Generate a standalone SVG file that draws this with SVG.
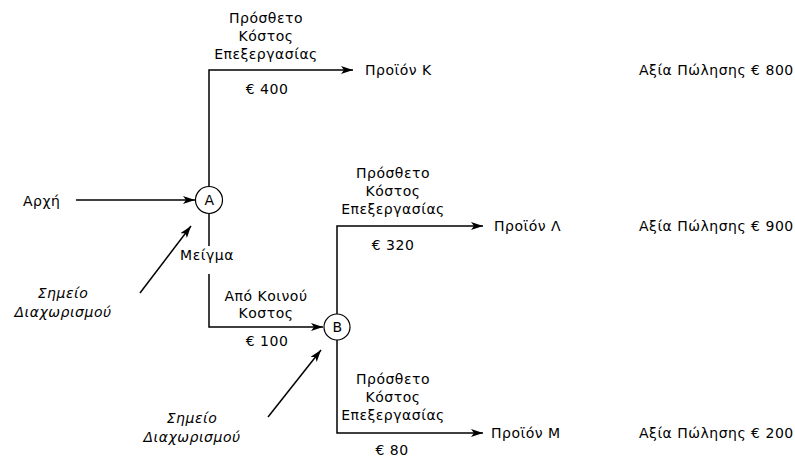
<svg xmlns="http://www.w3.org/2000/svg" width="795" height="457" viewBox="0 0 795 457">
<defs>
<marker id="ah" viewBox="0 0 12 8" refX="12" refY="4" markerWidth="12" markerHeight="8" markerUnits="userSpaceOnUse" orient="auto">
<path d="M0,0 L12,4 L0,8 L3,4 Z" fill="#000"/>
</marker>
</defs>
<style>
text{font-family:"DejaVu Sans",Verdana,sans-serif;font-size:14px;letter-spacing:0.5px;fill:#000}
.c{text-anchor:middle}
.i{font-style:italic}
.ln{fill:none;stroke:#000;stroke-width:1.5}
.nd{fill:#fff;stroke:#000;stroke-width:1.2}
</style>
<rect width="795" height="457" fill="#fff"/>
<g id="connectors">
<path class="ln" d="M209,186 V70 H353" marker-end="url(#ah)"/>
<path class="ln" d="M76,200 H195" marker-end="url(#ah)"/>
<path class="ln" d="M209,214 V246"/>
<path class="ln" d="M209,274 V327 H323" marker-end="url(#ah)"/>
<path class="ln" d="M337,314 V226 H483" marker-end="url(#ah)"/>
<path class="ln" d="M337,340 V433 H483" marker-end="url(#ah)"/>
<path class="ln" d="M140,293 L191,226" marker-end="url(#ah)"/>
<path class="ln" d="M268,417 L321,350" marker-end="url(#ah)"/>
</g>
<g id="A">
<circle class="nd" cx="209" cy="200" r="13.5"/>
<text class="c" x="209.5" y="205">A</text>
</g>
<g id="B">
<circle class="nd" cx="337" cy="327" r="13"/>
<text class="c" x="337.5" y="332">B</text>
</g>
<g id="labels">
<text x="23" y="206">Αρχή</text>
<text class="c" x="207" y="260">Μείγμα</text>
<text class="c i" x="63" y="298">Σημείο</text>
<text class="c i" x="63" y="317">Διαχωρισμού</text>
<text class="c i" x="192" y="423">Σημείο</text>
<text class="c i" x="192" y="442">Διαχωρισμού</text>
<text class="c" x="266" y="23">Πρόσθετο</text>
<text class="c" x="266" y="41">Κόστος</text>
<text class="c" x="266" y="59">Επεξεργασίας</text>
<text class="c" x="267" y="94">€ 400</text>
<text class="c" x="266" y="301">Από Κοινού</text>
<text class="c" x="266" y="318">Κοστος</text>
<text class="c" x="267" y="346">€ 100</text>
<text class="c" x="393" y="178">Πρόσθετο</text>
<text class="c" x="393" y="196">Κόστος</text>
<text class="c" x="393" y="214">Επεξεργασίας</text>
<text class="c" x="393" y="250">€ 320</text>
<text class="c" x="393" y="384">Πρόσθετο</text>
<text class="c" x="393" y="402">Κόστος</text>
<text class="c" x="393" y="420">Επεξεργασίας</text>
<text class="c" x="392" y="455">€ 80</text>
</g>
<g id="products">
<text x="365" y="75">Προϊόν Κ</text>
<text x="494" y="231">Προϊόν Λ</text>
<text x="491" y="438">Προϊόν Μ</text>
<text x="639" y="75">Αξία Πώλησης € 800</text>
<text x="639" y="231">Αξία Πώλησης € 900</text>
<text x="639" y="438">Αξία Πώλησης € 200</text>
</g>
</svg>
